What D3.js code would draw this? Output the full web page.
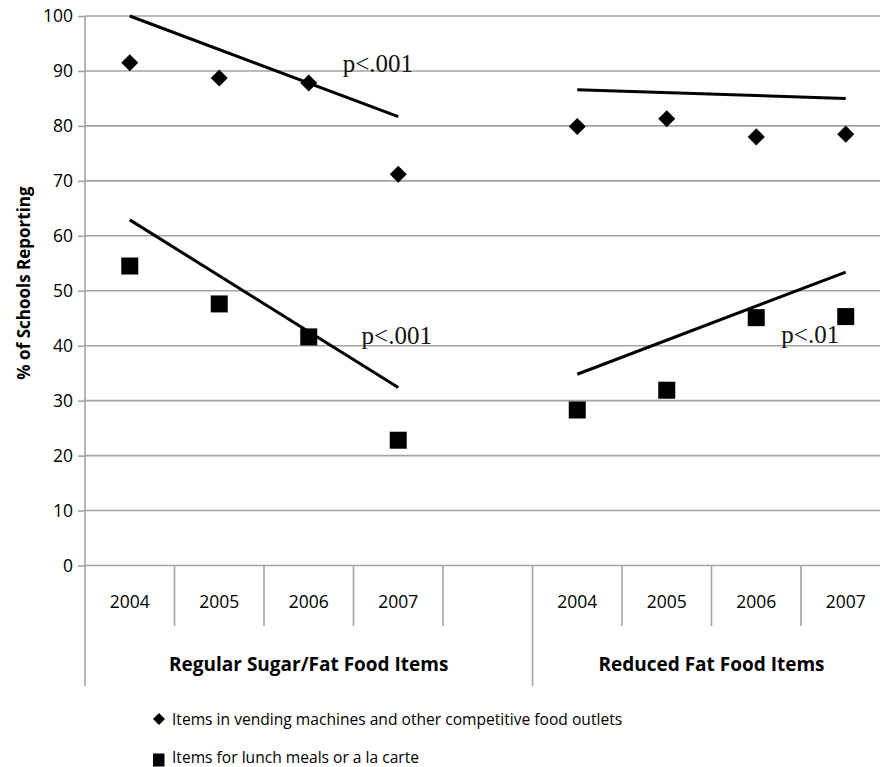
<!DOCTYPE html>
<html>
<head>
<meta charset="utf-8">
<script src="https://cdn.jsdelivr.net/npm/d3@7"></script>
<style>
  html, body { margin: 0; padding: 0; background: #fff; }
  svg { display: block; }
</style>
</head>
<body>
<svg id="chart" width="880" height="767"></svg>
<script>
// ---- data ----
const groupLabels = ["Regular Sugar/Fat Food Items", "Reduced Fat Food Items"];
const slotLabels = ["2004", "2005", "2006", "2007", "", "2004", "2005", "2006", "2007"];
const slotGroup = [0, 0, 0, 0, 0, 1, 1, 1, 1];
const vendingValues = [91.5, 88.7, 87.8, 71.2, null, 79.9, 81.3, 78.0, 78.5];
const lunchValues = [54.5, 47.6, 41.6, 22.8, null, 28.3, 31.9, 45.1, 45.3];
const yTicks = [0, 10, 20, 30, 40, 50, 60, 70, 80, 90, 100];
// trend lines: start slot, end slot, start value, end value
const trendFrom = [0, 5, 0, 5];
const trendTo = [3, 8, 3, 8];
const trendStart = [100, 86.6, 62.9, 34.8];
const trendEnd = [81.7, 85.0, 32.4, 53.4];
// p-value annotations: text, slot position, value at baseline
const pTexts = ["p<.001", "p<.001", "p<.01"];
const pSlot = [2.38, 2.59, 7.28];
const pValue = [89.8, 40.3, 40.5];
const legendLabels = ["Items in vending machines and other competitive food outlets", "Items for lunch meals or a la carte"];

// ---- layout ----
const svg = d3.select("#chart");
const plotLeft = 85, slotW = 89.5, nSlots = slotLabels.length;
const plotRight = plotLeft + slotW * nSlots;
const plotTop = 16, plotBottom = 565.5;
const gridColor = "#a3a3a3";
const textColor = "#000";
const sans = "'Open Sans', 'DejaVu Sans', sans-serif";

const x = d3.scaleBand().domain(d3.range(nSlots)).range([plotLeft, plotRight]).paddingInner(0).paddingOuter(0);
const xc = d3.scaleLinear().domain([-0.5, nSlots - 0.5]).range([plotLeft, plotRight]);
const y = d3.scaleLinear().domain([0, 100]).range([plotBottom, plotTop]);

// gridlines
svg.append("g").selectAll("line").data(yTicks).join("line")
  .attr("x1", plotLeft).attr("x2", plotRight)
  .attr("y1", d => y(d)).attr("y2", d => y(d))
  .attr("stroke", gridColor).attr("stroke-width", 1.6);

// y axis
const yAxis = d3.axisLeft(y).tickValues(yTicks).tickSize(7).tickPadding(5);
const yg = svg.append("g").attr("transform", `translate(${plotLeft},0)`).call(yAxis);
yg.select(".domain").attr("stroke", gridColor).attr("stroke-width", 1.6).attr("d", `M0,${plotTop}V${plotBottom}`);
yg.selectAll(".tick line").attr("stroke", gridColor).attr("stroke-width", 1.6);
yg.selectAll(".tick text").attr("font-family", sans).attr("font-size", 17.5).attr("font-weight", 500).attr("fill", textColor);

// y title
svg.append("text")
  .attr("transform", `translate(23,283) rotate(-90)`)
  .attr("text-anchor", "middle").attr("dominant-baseline", "central")
  .attr("font-family", sans).attr("font-weight", "bold").attr("font-size", 17).attr("fill", textColor)
  .text("% of Schools Reporting");

// category dividers
const boundaries = d3.range(nSlots + 1);
svg.append("g").selectAll("line").data(boundaries).join("line")
  .attr("x1", i => xc(i - 0.5)).attr("x2", i => xc(i - 0.5))
  .attr("y1", plotBottom)
  .attr("y2", i => (i === 0 || i === nSlots || slotGroup[i] !== slotGroup[i - 1]) ? 686 : 626)
  .attr("stroke", gridColor).attr("stroke-width", 1.6);

// year labels
svg.append("g").selectAll("text").data(slotLabels).join("text")
  .attr("x", (d, i) => x(i) + x.bandwidth() / 2).attr("y", 608)
  .attr("text-anchor", "middle")
  .attr("font-family", sans).attr("font-size", 17.5).attr("font-weight", 500).attr("fill", textColor)
  .text(d => d);

// group labels
svg.append("g").selectAll("text").data(groupLabels).join("text")
  .attr("x", (d, g) => {
    const idx = slotGroup.map((s, i) => s === g ? i : -1).filter(i => i >= 0);
    return (x(idx[0]) + x(idx[idx.length - 1]) + x.bandwidth()) / 2;
  })
  .attr("y", 671)
  .attr("text-anchor", "middle")
  .attr("font-family", sans).attr("font-weight", "bold").attr("font-size", 19).attr("fill", textColor)
  .text(d => d);

// trend lines
svg.append("g").selectAll("line").data(trendFrom).join("line")
  .attr("x1", (d, i) => xc(trendFrom[i])).attr("x2", (d, i) => xc(trendTo[i]))
  .attr("y1", (d, i) => y(trendStart[i])).attr("y2", (d, i) => y(trendEnd[i]))
  .attr("stroke", "#000").attr("stroke-width", 3);

// markers
const diamond = d3.symbol().type(d3.symbolDiamond2).size(185);
svg.append("g").selectAll("path").data(vendingValues.map((v, i) => ({v, i})).filter(d => d.v !== null)).join("path")
  .attr("transform", d => `translate(${x(d.i) + x.bandwidth() / 2},${y(d.v)})`)
  .attr("d", diamond).attr("fill", "#000");

const sq = 17;
svg.append("g").selectAll("rect").data(lunchValues.map((v, i) => ({v, i})).filter(d => d.v !== null)).join("rect")
  .attr("x", d => x(d.i) + x.bandwidth() / 2 - sq / 2)
  .attr("y", d => y(d.v) - sq / 2)
  .attr("width", sq).attr("height", sq).attr("fill", "#000");

// p-value annotations
svg.append("g").selectAll("text").data(pTexts).join("text")
  .attr("x", (d, i) => xc(pSlot[i])).attr("y", (d, i) => y(pValue[i]))
  .attr("font-family", "'Liberation Serif', 'Times New Roman', serif").attr("font-size", 25).attr("fill", "#111")
  .text(d => d);

// legend
const lg = svg.append("g");
lg.append("path").attr("transform", "translate(159,719)")
  .attr("d", d3.symbol().type(d3.symbolDiamond2).size(92)).attr("fill", "#000");
lg.append("rect").attr("x", 153).attr("y", 753.5).attr("width", 11.5).attr("height", 13).attr("fill", "#000");
lg.selectAll("text").data(legendLabels).join("text")
  .attr("x", 172).attr("y", (d, i) => i === 0 ? 725 : 763)
  .attr("font-family", sans).attr("font-size", 15.6).attr("font-weight", 500).attr("fill", textColor)
  .text(d => d);
</script>
</body>
</html>
